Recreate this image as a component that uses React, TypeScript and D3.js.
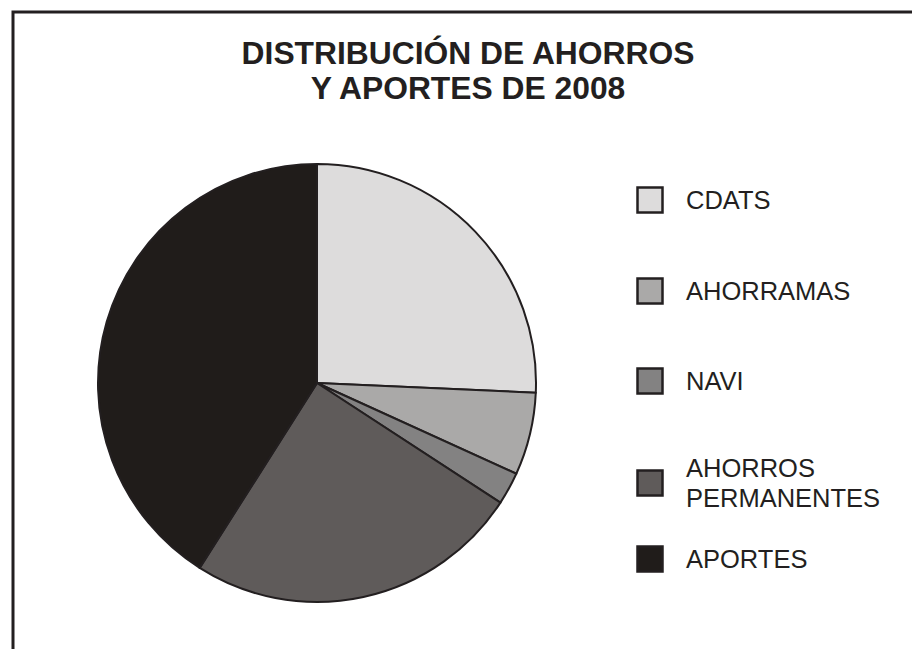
import React from 'react';
import * as d3 from 'd3';

// shares of 2008 savings and contributions (percent)
const categories = ['CDATS', 'AHORRAMAS', 'NAVI', 'AHORROS PERMANENTES', 'APORTES'];
const values = [25.7, 6.1, 2.4, 24.8, 41.0];
const legendLines = [['CDATS'], ['AHORRAMAS'], ['NAVI'], ['AHORROS', 'PERMANENTES'], ['APORTES']];
const fills = ['#dddcdc', '#aaa9a8', '#838282', '#5f5b5a', '#201c1a'];
const titleLines = ['DISTRIBUCIÓN DE AHORROS', 'Y APORTES DE 2008'];

const W = 912;
const H = 649;
const ink = '#231f20';

function App() {
  const cx = 317;
  const cy = 383;
  const r = 219;

  const pie = d3.pie<number>().sort(null).value(d => d);
  const arcs = pie(values);
  const arc = d3.arc<d3.PieArcDatum<number>>().innerRadius(0).outerRadius(r);

  // legend rows, centre y of each swatch
  const rowY = d3.scaleOrdinal<string, number>()
    .domain(categories)
    .range([200, 291, 381, 483, 559]);

  return (
    <svg width={W} height={H} style={{ position: 'absolute', left: 0, top: 0, background: '#fff' }}
      fontFamily="'Liberation Sans', Arial, sans-serif">
      <rect x={13} y={12} width={W + 20} height={H + 20} fill="none" stroke={ink} strokeWidth={3} />

      <g fill={ink} fontWeight="bold" fontSize={31.8} textAnchor="middle">
        {titleLines.map((t, i) => (
          <text key={t} x={468} y={63.7 + i * 35}>{t}</text>
        ))}
      </g>

      <g transform={`translate(${cx},${cy})`}>
        {arcs.map((a, i) => (
          <path key={categories[i]} d={arc(a) ?? ''} fill={fills[i]} stroke={ink} strokeWidth={2}
            strokeLinejoin="round" />
        ))}
      </g>

      <g>
        {categories.map((c, i) => {
          const y = rowY(c);
          const lines = legendLines[i];
          return (
            <g key={c}>
              <rect x={637.5} y={y - 12.5} width={25} height={25} fill={fills[i]} stroke={ink} strokeWidth={2.5} />
              {lines.map((l, j) => (
                <text key={l} x={686} y={y + 9 + (j - (lines.length - 1) / 2) * 30}
                  fontSize={25.5} fill={ink}>{l}</text>
              ))}
            </g>
          );
        })}
      </g>
    </svg>
  );
}

export default App;
